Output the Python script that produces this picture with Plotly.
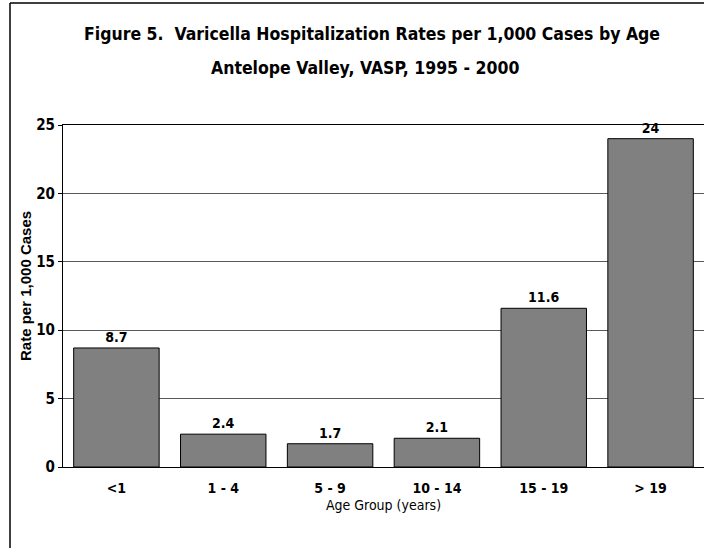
import plotly.graph_objects as go

# data
age_groups = ["<1", "1 - 4", "5 - 9", "10 - 14", "15 - 19", "> 19"]
rates = [8.7, 2.4, 1.7, 2.1, 11.6, 24]
y_ticks = [0, 5, 10, 15, 20, 25]
title_lines = ["Figure 5.  Varicella Hospitalization Rates per 1,000 Cases by Age",
               "Antelope Valley, VASP, 1995 - 2000"]

narrow = "Liberation Sans Narrow, DejaVu Sans Condensed, DejaVu Sans, sans-serif"

W, H = 704, 548
L, R, T, B = 63, 0, 125, 81
pw, ph = W - L - R, H - T - B

def px_x(x):
    return (x - L) / pw

def px_y(y):
    return (H - B - y) / ph

bars = go.Bar(
    x=age_groups, y=rates,
    marker=dict(color="#808080", line=dict(color="#000000", width=1)),
    text=[str(v) for v in rates], textposition="outside", cliponaxis=False,
    textfont=dict(family=narrow, size=14, color="#000000", weight="bold"),
)

fig = go.Figure(data=[bars])
fig.update_layout(
    width=W, height=H,
    margin=dict(l=L, r=R, t=T, b=B, autoexpand=False),
    paper_bgcolor="white", plot_bgcolor="white",
    bargap=0.2, showlegend=False,
)
# two title lines, placed separately to keep the wide line spacing
for line, cx, cy in zip(title_lines, [372, 365], [34, 68]):
    fig.add_annotation(
        text=line, xref="paper", yref="paper", x=px_x(cx), y=px_y(cy),
        xanchor="center", yanchor="middle", showarrow=False,
        font=dict(family=narrow, size=17.5, color="#000000", weight="bold"),
    )
# y axis title
fig.add_annotation(
    text="Rate per 1,000 Cases", xref="paper", yref="paper",
    x=px_x(25), y=px_y(286), xanchor="center", yanchor="middle",
    textangle=-90, showarrow=False,
    font=dict(family="Liberation Sans, Arial, sans-serif", size=15, color="#000000", weight="bold"),
)
fig.update_xaxes(
    showline=True, linecolor="#000000", linewidth=1, mirror=True,
    ticks="", showgrid=False, automargin=False, ticklabelstandoff=8,
    tickfont=dict(family=narrow, size=14, color="#000000", weight="bold"),
    title=dict(text="Age Group (years)", font=dict(family=narrow, size=14, color="#000000"), standoff=5),
)
fig.update_yaxes(
    range=[0, 25], tickvals=y_ticks, automargin=False,
    showline=True, linecolor="#000000", linewidth=1,
    ticks="outside", ticklen=4, tickcolor="#000000",
    showgrid=True, gridcolor="#5a5a5a", gridwidth=1, zeroline=False,
    tickfont=dict(family=narrow, size=15, color="#000000", weight="bold"),
)

# outer frame (top and left edges visible in the reference)
fig.add_shape(type="line", xref="paper", yref="paper",
              x0=px_x(10), x1=px_x(W + 5), y0=px_y(3), y1=px_y(3),
              line=dict(color="#000000", width=1.5))
fig.add_shape(type="line", xref="paper", yref="paper",
              x0=px_x(10), x1=px_x(10), y0=px_y(3), y1=px_y(H + 5),
              line=dict(color="#000000", width=1.5))

fig.write_html("out.html", config={"displayModeBar": False},
               post_script="document.body.style.margin='0';")
